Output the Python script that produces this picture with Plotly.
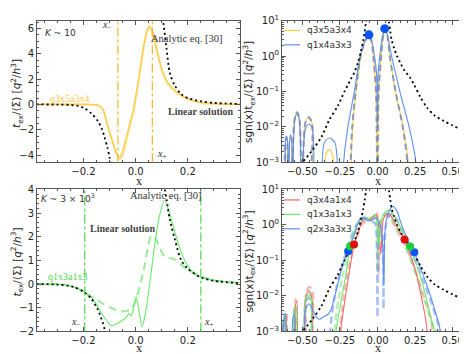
import plotly.graph_objects as go
from plotly.subplots import make_subplots

# ---------------- top-left (K ~ 10), linear ----------------
tl_y_x = [-0.38, -0.2, -0.16, -0.14, -0.125, -0.113, -0.094, -0.075, -0.062, -0.05, -0.036, -0.022, -0.01, 0.009, 0.015,
          0.03, 0.045, 0.054, 0.065, 0.075, 0.09, 0.105, 0.124, 0.15, 0.188, 0.22, 0.26, 0.31, 0.4]
tl_y_y = [0, 0, -0.02, -0.1, -0.4, -1.3, -2.6, -3.8, -4.2, -3.7, -2.6, -1.5, -0.55, 1.7, 2.5,
          4.5, 5.8, 6.1, 5.8, 5.0, 3.6, 2.5, 1.7, 1.1, 0.58, 0.3, 0.12, 0.04, 0]
tl_lin_x = [-0.38, -0.2, -0.16, -0.14, -0.125, -0.11, -0.09, -0.072, -0.058, -0.046, -0.032, -0.018, -0.006, 0.012, 0.018,
            0.032, 0.044, 0.051, 0.06, 0.072, 0.088, 0.105, 0.124, 0.15, 0.188, 0.22, 0.26, 0.31, 0.4]
tl_lin_y = [0, 0, -0.02, -0.1, -0.4, -1.4, -2.8, -3.9, -4.3, -3.8, -2.6, -1.4, -0.4, 1.9, 2.7,
            4.7, 5.9, 6.2, 5.9, 5.0, 3.6, 2.4, 1.6, 1.05, 0.55, 0.28, 0.11, 0.04, 0]
tl_an_x = [-0.38, -0.3, -0.25, -0.22, -0.196, -0.17, -0.145, -0.13, -0.119, -0.108, -0.1, -0.094, None,
           0.1, 0.105, 0.118, 0.131, 0.15, 0.175, 0.2, 0.25, 0.3, 0.4]
tl_an_y = [0, -0.01, -0.04, -0.12, -0.3, -0.7, -1.3, -1.9, -2.6, -3.4, -4.2, -4.9, None,
           7.2, 6.6, 4.5, 2.5, 1.5, 0.8, 0.5, 0.25, 0.12, 0.04]
tl_xm, tl_xp = -0.068, 0.064

# ---------------- bottom-left (K ~ 3e3), linear ----------------
bl_s_x = [-0.38, -0.28, -0.235, -0.2, -0.171, -0.15, -0.132, -0.11, -0.094, -0.075, -0.055, -0.04, -0.025, -0.018, -0.012,
          -0.006, 0.002, 0.012, 0.025, 0.038, 0.054, 0.07, 0.09, 0.111, 0.13, 0.15, 0.17, 0.188, 0.227, 0.28, 0.33, 0.406]
bl_s_y = [0, -0.02, -0.13, -0.3, -0.55, -0.85, -1.21, -1.55, -1.75, -1.7, -1.55, -1.45, -1.25, -1.35, -1.2,
          -0.9, -0.55, -1.1, -1.8, -1.2, 0.0, 1.4, 2.8, 3.54, 3.0, 2.2, 1.5, 1.0, 0.4, 0.2, 0.12, 0.05]
bl_d_x = [-0.38, -0.26, -0.22, -0.196, -0.165, -0.132, -0.1, -0.068, -0.045, -0.025, -0.012, 0.0, 0.009, 0.02, 0.035,
          0.048, 0.06, 0.075, 0.09, 0.111, 0.13, 0.15, 0.188, 0.24, 0.3, 0.406]
bl_d_y = [0, -0.05, -0.2, -0.38, -0.55, -0.78, -0.98, -1.12, -1.15, -1.1, -1.0, -0.7, -0.38, 0.1, 0.8,
          1.6, 2.05, 1.95, 1.6, 1.17, 1.1, 1.04, 0.7, 0.38, 0.15, 0.04]
bl_an_x = [-0.38, -0.3, -0.26, -0.235, -0.2, -0.171, -0.145, -0.126, -0.119, -0.112, None,
           0.108, 0.112, 0.119, 0.131, 0.15, 0.175, 0.2, 0.252, 0.3, 0.406]
bl_an_y = [0, -0.02, -0.07, -0.13, -0.32, -0.6, -1.08, -1.62, -1.9, -2.2, None,
           4.2, 4.0, 3.54, 2.73, 1.9, 1.0, 0.65, 0.27, 0.14, 0.03]
bl_xm, bl_xp = -0.195, 0.25

# ---------------- log panels: analytic curve ----------------
lg_an_x = [-0.64, -0.58, -0.54, -0.5, -0.43, -0.373, -0.32, -0.263, -0.22, -0.195, -0.176, -0.156, -0.13, -0.11, -0.095,
           -0.085, -0.077, -0.072, None, 0.072, 0.077, 0.085, 0.095, 0.11, 0.13, 0.155, 0.18, 0.217, 0.245,
           0.285, 0.33, 0.38, 0.438, 0.5, 0.548, 0.6, 0.64]
lg_an_y = [3e-4, 5e-4, 7e-4, 1e-3, 2.3e-3, 5.2e-3, 1.6e-2, 4e-2, 0.1, 0.16, 0.23, 0.33, 0.65, 1.4, 2.8,
           5, 9, 13, None, 13, 9, 5, 2.8, 1.7, 1.0, 0.6, 0.39, 0.245, 0.15,
           0.07, 0.035, 0.021, 0.015, 0.011, 0.0088, 0.0072, 0.0062]

# ---------------- top-right ----------------
tr_y_x = [-0.64, -0.62, -0.612, -0.605, -0.598, -0.59, -0.584, -0.578, -0.571, -0.565, -0.55, -0.535, -0.52, -0.505, -0.48,
          -0.458, -0.436, -0.415, -0.37, -0.345, -0.32, -0.298, -0.276, -0.185, -0.175, -0.165, -0.143, -0.11, -0.085, -0.057,
          -0.038, -0.028, -0.01, 0.0, 0.008, 0.025, 0.038, 0.05, 0.065, 0.082, 0.12, 0.17, 0.205, 0.215, 0.64]
tr_y_y = [1e-6, 1e-6, 3.5e-3, 5e-3, 3.5e-3, 1e-6, 3.9e-3, 5.5e-3, 3.9e-3, 1e-6, 1.8e-2, 2.5e-2, 1.8e-2, 1e-6, 1.3e-2,
          1.8e-2, 1.3e-2, 1e-6, 1e-6, 1.6e-3, 2.3e-3, 1.6e-3, 1e-6, 1e-6, 1e-3, 1e-2, 0.1, 1, 2.5, 4.2,
          2.5, 1, 0.1, 1e-6, 0.1, 1, 4, 6.1, 4, 1, 0.1, 1e-2, 1e-3, 1e-6, 1e-6]
tr_b_x = [-0.64, -0.62, -0.612, -0.605, -0.598, -0.59, -0.584, -0.578, -0.571, -0.565, -0.55, -0.535, -0.52, -0.505, -0.48,
          -0.455, -0.432, -0.41, -0.39, -0.355, -0.32, -0.282, -0.245, -0.235, -0.225, -0.197, -0.154, -0.115, -0.085, -0.057,
          -0.035, -0.02, -0.006, 0.0, 0.004, 0.015, 0.035, 0.048, 0.065, 0.09, 0.149, 0.21, 0.255, 0.27, 0.615, 0.625, 0.64]
tr_b_y = [1e-6, 1e-6, 4e-3, 5.5e-3, 4e-3, 1e-6, 4.2e-3, 6e-3, 4.2e-3, 1e-6, 1.6e-2, 2.3e-2, 1.6e-2, 1e-6, 8.5e-3,
          1.2e-2, 8.5e-3, 1e-6, 1e-6, 3.5e-3, 4.9e-3, 3.5e-3, 1e-6, 1e-6, 1e-3, 1e-2, 0.1, 1, 2.6, 4.0,
          2.3, 1.0, 0.3, 1e-2, 0.3, 1, 4, 6.0, 4.2, 1.2, 0.1, 1e-2, 1e-3, 1e-6, 1e-6, 3e-3, 3e-2]
tr_d_x = [-0.64, -0.625, -0.615, -0.607, -0.6, -0.592, -0.55, -0.535, -0.52, -0.505, -0.48, -0.458, -0.436, -0.415, -0.19,
          -0.178, -0.168, -0.145, -0.112, -0.085, -0.057, -0.038, -0.028, -0.01, 0.0, 0.008, 0.025, 0.038, 0.05, 0.065,
          0.082, 0.12, 0.168, 0.198, 0.208, 0.615, 0.628, 0.64]
tr_d_y = [1e-6, 1e-6, 3.5e-3, 5e-3, 3.5e-3, 1e-6, 1.8e-2, 2.6e-2, 1.8e-2, 1e-6, 1.3e-2, 1.9e-2, 1.3e-2, 1e-6, 1e-6,
          1e-3, 1e-2, 0.1, 1, 2.5, 4.1, 2.5, 1, 0.1, 1e-6, 0.1, 1, 4, 6.0, 4,
          1, 0.1, 1e-2, 1e-3, 1e-6, 1e-6, 3e-3, 3e-2]
tr_dot_x = [-0.057, 0.048]
tr_dot_y = [4.0, 6.0]

# ---------------- bottom-right ----------------
br_r_x = [-0.64, -0.62, -0.607, -0.595, -0.565, -0.548, -0.535, -0.52, -0.495, -0.475, -0.455, -0.435, -0.415, -0.26, -0.245,
          -0.22, -0.19, -0.156, -0.13, -0.1, -0.075, -0.05, -0.03, -0.01, 0.005, 0.015, 0.022, 0.03, 0.04, 0.063,
          0.08, 0.11, 0.14, 0.18, 0.22, 0.26, 0.29, 0.315, 0.33, 0.345, 0.64]
br_r_y = [1e-6, 2.2e-3, 3e-3, 1e-6, 1e-6, 5e-3, 7e-3, 1e-6, 1e-6, 1.0e-2, 1.4e-2, 8e-3, 1e-6, 1e-6, 1e-3,
          6e-3, 4e-2, 0.28, 0.6, 1.3, 1.6, 1.4, 1.6, 2.0, 1.2, 0.3, 0.15, 0.6, 1.5, 2.1,
          2.0, 1.3, 0.75, 0.39, 0.14, 0.04, 0.01, 3e-3, 1e-3, 1e-6, 1e-6]
br_g_x = [-0.64, -0.625, -0.612, -0.6, -0.57, -0.552, -0.54, -0.525, -0.5, -0.48, -0.458, -0.44, -0.418, -0.3, -0.275,
          -0.245, -0.21, -0.182, -0.15, -0.115, -0.085, -0.055, -0.035, -0.015, 0.0, 0.01, 0.02, 0.04, 0.065, 0.085,
          0.11, 0.15, 0.19, 0.217, 0.25, 0.29, 0.33, 0.36, 0.38, 0.395, 0.615, 0.628, 0.64]
br_g_y = [1e-6, 2e-3, 2.5e-3, 1e-6, 1e-6, 4e-3, 5e-3, 1e-6, 1e-6, 8e-3, 1.1e-2, 7e-3, 1e-6, 1e-6, 1e-3,
          6e-3, 4e-2, 0.25, 0.7, 1.4, 1.7, 1.5, 1.7, 2.0, 1.0, 0.25, 1.0, 2.0, 2.5, 2.6,
          1.8, 0.9, 0.4, 0.245, 0.1, 0.03, 7e-3, 2e-3, 1e-3, 1e-6, 1e-6, 2e-3, 2e-2]
br_b_x = [-0.64, -0.625, -0.612, -0.6, -0.58, -0.562, -0.55, -0.535, -0.5, -0.48, -0.455, -0.43, -0.405, -0.385, -0.36,
          -0.33, -0.31, -0.29, -0.26, -0.23, -0.195, -0.16, -0.13, -0.115, -0.09, -0.06, -0.03, -0.01, 0.01, 0.03,
          0.042, 0.048, 0.06, 0.08, 0.105, 0.13, 0.16, 0.2, 0.245, 0.28, 0.32, 0.36, 0.39, 0.415, 0.43, 0.64]
br_b_y = [1e-6, 2e-3, 3e-3, 1e-6, 1e-6, 2.5e-3, 3e-3, 1e-6, 1e-6, 4e-3, 6e-3, 4e-3, 2.5e-3, 2.2e-3, 2.6e-3,
          3e-3, 4e-3, 8e-3, 2.5e-2, 8e-2, 0.18, 0.45, 1.1, 1.55, 1.6, 1.3, 1.4, 1.6, 1.2, 0.5,
          0.02, 0.5, 1.5, 2.6, 3.3, 2.4, 1.0, 0.4, 0.17, 0.07, 0.025, 8e-3, 3e-3, 1.2e-3, 1e-6, 1e-6]
br_rd_x = [-0.64, -0.615, -0.603, -0.59, -0.56, -0.545, -0.53, -0.49, -0.472, -0.452, -0.432, -0.412, -0.262, -0.248, -0.225,
           -0.2, -0.17, -0.14, -0.11, -0.08, -0.05, -0.02, -0.005, 0.003, 0.008, 0.015, 0.03, 0.05, 0.07, 0.1,
           0.14, 0.18, 0.22, 0.26, 0.3, 0.34, 0.365, 0.375, 0.64]
br_rd_y = [1e-6, 1e-6, 3.5e-3, 1e-6, 1e-6, 8e-3, 1e-6, 1e-6, 1.3e-2, 1.8e-2, 1.3e-2, 1e-6, 1e-6, 1e-3, 8e-3,
           4e-2, 0.15, 0.4, 0.9, 1.3, 1.5, 1.7, 2.2, 0.5, 0.04, 0.5, 1.5, 1.8, 1.9, 1.2,
           0.6, 0.3, 0.12, 0.04, 0.012, 4e-3, 1.2e-3, 1e-6, 1e-6]
br_gd_x = [-0.64, -0.622, -0.61, -0.598, -0.565, -0.55, -0.535, -0.495, -0.475, -0.455, -0.435, -0.415, -0.3, -0.285, -0.26,
           -0.23, -0.2, -0.17, -0.13, -0.1, -0.07, -0.04, -0.015, -0.005, 0.002, 0.01, 0.025, 0.045, 0.065, 0.09,
           0.12, 0.16, 0.2, 0.24, 0.28, 0.32, 0.36, 0.385, 0.395, 0.615, 0.625, 0.64]
br_gd_y = [1e-6, 1e-6, 3e-3, 1e-6, 1e-6, 5e-3, 1e-6, 1e-6, 9e-3, 1.3e-2, 9e-3, 1e-6, 1e-6, 1e-3, 8e-3,
           4e-2, 0.13, 0.4, 0.9, 1.3, 1.4, 1.5, 1.9, 0.6, 0.05, 0.6, 1.6, 2.0, 2.1, 1.6,
           0.9, 0.4, 0.17, 0.06, 0.02, 6e-3, 1.8e-3, 1e-3, 1e-6, 1e-6, 3e-3, 3e-2]
br_bd_x = [-0.64, -0.628, -0.615, -0.603, -0.57, -0.555, -0.54, -0.5, -0.48, -0.46, -0.44, -0.42, -0.33, -0.316, -0.29,
           -0.26, -0.22, -0.18, -0.14, -0.1, -0.06, -0.03, -0.012, -0.004, 0.0, 0.004, 0.012, 0.025, 0.036, 0.04,
           0.044, 0.06, 0.08, 0.1, 0.13, 0.17, 0.21, 0.25, 0.3, 0.35, 0.39, 0.415, 0.425, 0.615, 0.625, 0.64]
br_bd_y = [1e-6, 1e-6, 3.5e-3, 1e-6, 1e-6, 4e-3, 1e-6, 1e-6, 6e-3, 9e-3, 6e-3, 1e-6, 1e-6, 1e-3, 7e-3,
           3e-2, 0.12, 0.4, 1.0, 1.5, 1.3, 1.2, 1.0, 0.2, 2.5e-3, 0.2, 0.8, 0.9, 0.2, 4.3e-3,
           0.2, 1.2, 1.9, 2.0, 1.4, 0.6, 0.25, 0.1, 0.03, 8e-3, 2.5e-3, 1e-3, 1e-6, 1e-6, 3e-3, 3e-2]
br_dot_r = ([-0.156, 0.18], [0.28, 0.39])
br_dot_g = ([-0.182, 0.217], [0.25, 0.245])
br_dot_b = ([-0.195, 0.245], [0.18, 0.17])

tr_names = ['q3x5a3x4', 'q1x4a3x3']
br_names = ['q3x4a1x4', 'q1x3a1x3', 'q2x3a3x3']

YEL = '#FFCB45'
YEL_V = '#F2B62A'
BLUE = '#5E8FF2'
RED = '#F26B6B'
GREEN = '#6CE86C'
GREEN_V = '#4ED84E'
SANS = 'DejaVu Sans'
SERIF = 'Liberation Serif'
W, H = 467, 354

fig = make_subplots(rows=2, cols=2)


def line(x, y, color, width=1.2, dash=None, row=1, col=1, shape='linear'):
    fig.add_trace(go.Scatter(x=x, y=y, mode='lines', showlegend=False, connectgaps=False,
                             line=dict(color=color, width=width, dash=dash, shape=shape, smoothing=0.8)),
                  row=row, col=col)


# top-left
line(tl_lin_x, tl_lin_y, 'rgba(255,210,100,0.55)', 2.2, shape='spline')
line(tl_y_x, tl_y_y, YEL, 1.3, shape='spline')
line(tl_an_x, tl_an_y, 'black', 1.8, dash='2px,3px', shape='spline')
for xv in (tl_xm, tl_xp):
    fig.add_vline(x=xv, line=dict(color=YEL_V, width=1.2, dash='dashdot'), row=1, col=1)

# bottom-left
line(bl_d_x, bl_d_y, 'rgba(120,230,120,0.7)', 2.2, dash='8px,5px', shape='spline', row=2, col=1)
line(bl_s_x, bl_s_y, GREEN, 1.1, shape='spline', row=2, col=1)
line(bl_an_x, bl_an_y, 'black', 1.8, dash='2px,3px', shape='spline', row=2, col=1)
for xv in (bl_xm, bl_xp):
    fig.add_vline(x=xv, line=dict(color=GREEN_V, width=1.2, dash='dashdot'), row=2, col=1)

# top-right
line(tr_y_x, tr_y_y, YEL, 1.1, row=1, col=2, shape='spline')
line(tr_b_x, tr_b_y, BLUE, 1.1, row=1, col=2, shape='spline')
line(tr_d_x, tr_d_y, 'rgba(120,140,185,0.85)', 2.0, dash='6px,4px', row=1, col=2, shape='spline')
line(lg_an_x, lg_an_y, 'black', 1.8, dash='2px,3px', row=1, col=2, shape='spline')
fig.add_trace(go.Scatter(x=tr_dot_x, y=tr_dot_y, mode='markers', showlegend=False,
                         marker=dict(color='#0B55F5', size=9)), row=1, col=2)

# bottom-right
line(br_rd_x, br_rd_y, 'rgba(242,120,120,0.55)', 2.4, dash='7px,4px', row=2, col=2, shape='spline')
line(br_gd_x, br_gd_y, 'rgba(120,230,120,0.55)', 2.4, dash='7px,4px', row=2, col=2, shape='spline')
line(br_bd_x, br_bd_y, 'rgba(110,150,240,0.6)', 2.4, dash='7px,4px', row=2, col=2, shape='spline')
line(br_r_x, br_r_y, RED, 1.1, row=2, col=2, shape='spline')
line(br_g_x, br_g_y, GREEN, 1.1, row=2, col=2, shape='spline')
line(br_b_x, br_b_y, BLUE, 1.1, row=2, col=2, shape='spline')
line(lg_an_x, lg_an_y, 'black', 1.8, dash='2px,3px', row=2, col=2, shape='spline')
for (dx, dy), c in ((br_dot_b, '#0B55F5'), (br_dot_g, '#1FCF3A'), (br_dot_r, '#E01010')):
    fig.add_trace(go.Scatter(x=dx, y=dy, mode='markers', showlegend=False,
                             marker=dict(color=c, size=8)), row=2, col=2)

# axes styling
dom_x = [[29 / W, 232 / W], [274 / W, 465 / W]]
dom_y = [[1 - 153 / H, 1 - 6 / H], [1 - 328.5 / H, 1 - 181 / H]]

common = dict(showline=True, linecolor='#555', linewidth=1, mirror='allticks', ticks='inside', ticklen=4,
              tickcolor='#555', showgrid=False, zeroline=False, tickfont=dict(family=SANS, size=10, color='#222'))
log_vals = [1e-3, 1e-2, 1e-1, 1, 10]
log_text = ['10<sup>−3</sup>', '10<sup>−2</sup>', '10<sup>−1</sup>', '10<sup>0</sup>', '10<sup>1</sup>']
log_minor = [m * 10 ** e for e in range(-3, 1) for m in range(2, 10)]
ylin_title = '<i>t</i><sub>ex</sub>/⟨Σ⟩ [<i>q</i><sup>2</sup>/<i>h</i><sup>3</sup>]'
ylog_title = 'sgn(x)t<sub>ex</sub>/⟨Σ⟩ [<i>q</i><sup>2</sup>/<i>h</i><sup>3</sup>]'

for i, (r, c) in enumerate([(1, 1), (1, 2), (2, 1), (2, 2)]):
    n = '' if i == 0 else str(i + 1)
    xa = dict(common, domain=dom_x[c - 1])
    ya = dict(common, domain=dom_y[r - 1])
    if c == 1:
        xa.update(range=[-0.378, 0.40], tickvals=[-0.2, 0.0, 0.2], ticktext=['−0.2', '0.0', '0.2'],
                  minor=dict(ticks='inside', ticklen=2, tickcolor='#555', dtick=0.05, tick0=0))
        if r == 1:
            ya.update(range=[-4.57, 6.6], dtick=2, minor=dict(ticks='inside', ticklen=2, tickcolor='#555', dtick=0.5, tick0=0))
        else:
            ya.update(range=[-2.0, 4.0], dtick=1, minor=dict(ticks='inside', ticklen=2, tickcolor='#555', dtick=0.2, tick0=0))
    else:
        xa.update(range=[-0.635, 0.635], tickvals=[-0.5, -0.25, 0, 0.25, 0.5],
                  ticktext=['−0.50', '−0.25', '0.00', '0.25', '0.50'],
                  minor=dict(ticks='inside', ticklen=2, tickcolor='#555', dtick=0.05, tick0=0))
        ya.update(type='log', range=[-3, 1], tickvals=log_vals, ticktext=log_text,
                  minor=dict(ticks='inside', ticklen=2, tickcolor='#555', tickvals=log_minor))
    fig.layout['xaxis' + n].update(xa)
    fig.layout['yaxis' + n].update(ya)

ann = []
shapes = []


def note(text, x, y, ref, color='#333', size=10, family=SERIF, **kw):
    ann.append(dict(text=text, x=x, y=y, xref='x' + ref, yref='y' + ref, showarrow=False,
                    font=dict(family=family, size=size, color=color), **kw))


def pnote(text, px, py, size=10, family=SANS, color='#222', xanchor='center', **kw):
    ann.append(dict(text=text, x=px / W, y=1 - py / H, xref='paper', yref='paper', showarrow=False,
                    xanchor=xanchor, yanchor='middle',
                    font=dict(family=family, size=size, color=color), **kw))


# axis titles
for px in (131, 370):
    for py in (172, 346):
        pnote('x', px, py, size=12, family=SERIF)
pnote(ylin_title, 9, 82, size=10.5, textangle=-90)
pnote(ylin_title, 9, 257, size=10.5, textangle=-90)
pnote(ylog_title, 241, 80, size=10.5, textangle=-90)
pnote(ylog_title, 241, 256, size=10.5, textangle=-90)


# legends drawn by hand
def legend_rows(names, colors, top):
    for k, (nm, col) in enumerate(zip(names, colors)):
        py = top + 15 * k
        shapes.append(dict(type='line', xref='paper', yref='paper', x0=276 / W, x1=292 / W,
                           y0=1 - py / H, y1=1 - py / H, line=dict(color=col, width=1.2)))
        pnote(nm, 297, py, size=9, color='#333', xanchor='left')


legend_rows(tr_names, [YEL, BLUE], 16)
legend_rows(br_names, [RED, GREEN, BLUE], 192)

note('<i>K</i> ~ 10', -0.288, 5.66, '', family=SANS, size=9)
note('Analytic eq. [30]', 0.195, 5.2, '', size=10.5)
note('<b>Linear solution</b>', 0.25, -0.55, '', size=10, color='#444')
note('q3x5a3x4', -0.255, 0.45, '', color=YEL, size=10)
note('<i>x</i><sub>−</sub>', -0.112, 6.2, '', size=10)
note('<i>x</i><sub>+</sub>', 0.098, -3.95, '', size=10)

note('<i>K</i> ~ 3 × 10<sup>3</sup>', -0.26, 3.62, '3', family=SANS, size=9)
note('Analytic eq. [30]', 0.113, 3.72, '3', size=10.5)
note('<b>Linear solution</b>', -0.05, 2.33, '3', size=10, color='#444')
note('q1x3a1x3', -0.26, 0.3, '3', color=GREEN_V, size=10)
note('<i>x</i><sub>−</sub>', -0.232, -1.62, '3', size=10)
note('<i>x</i><sub>+</sub>', 0.28, -1.62, '3', size=10)

fig.update_layout(
    width=W, height=H, margin=dict(l=0, r=0, t=0, b=0),
    paper_bgcolor='white', plot_bgcolor='white', showlegend=False,
    annotations=ann, shapes=list(fig.layout.shapes) + shapes,
)

fig.write_html("out.html")
